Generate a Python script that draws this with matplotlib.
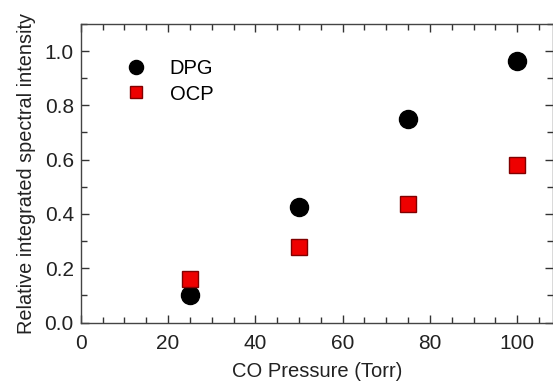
import numpy as np
import matplotlib.pyplot as plt
from matplotlib.ticker import MultipleLocator

plt.rcParams['font.family'] = ['Liberation Sans', 'DejaVu Sans']

pressure = [25, 50, 75, 100]
dpg = [0.10, 0.425, 0.75, 0.965]
ocp = [0.16, 0.28, 0.435, 0.58]

fig = plt.figure(figsize=(5.53, 3.91), dpi=100)
ax = fig.add_axes([0.146, 0.175, 0.854, 0.764])

ax.plot(pressure, dpg, 'o', color='black', markersize=13, label='DPG')
ax.plot(pressure, ocp, 's', color='#ee0000', markeredgecolor='#800000',
        markeredgewidth=1, markersize=11.5, label='OCP')

ax.set_xlim(0, 108.2)
ax.set_ylim(0, 1.1)
ax.xaxis.set_major_locator(MultipleLocator(20))
ax.xaxis.set_minor_locator(MultipleLocator(5))
ax.yaxis.set_major_locator(MultipleLocator(0.2))
ax.yaxis.set_minor_locator(MultipleLocator(0.1))
ax.yaxis.set_major_formatter(plt.FormatStrFormatter('%.1f'))
ax.tick_params(which='both', direction='in', top=True, right=True,
               colors='#333333', labelcolor='#222222', labelsize=15)
ax.tick_params(axis='x', pad=8)
ax.tick_params(axis='y', pad=5)
ax.tick_params(which='major', length=6, width=1)
ax.tick_params(which='minor', length=4, width=1)
for s in ax.spines.values():
    s.set_color('#444444')
    s.set_linewidth(1)

ax.set_xlabel('CO Pressure (Torr)', fontsize=14.5, color='#222222', labelpad=7)
ax.set_ylabel('Relative integrated spectral intensity', fontsize=14.3, color='#222222', labelpad=6)

ax.legend(loc='center left', frameon=False, fontsize=14.5, markerscale=0.78,
          handlelength=2.0, handletextpad=0.7, borderpad=0.4,
          bbox_to_anchor=(0.035, 0.807), labelspacing=0.3)

fig.savefig('out.png', dpi=100)
